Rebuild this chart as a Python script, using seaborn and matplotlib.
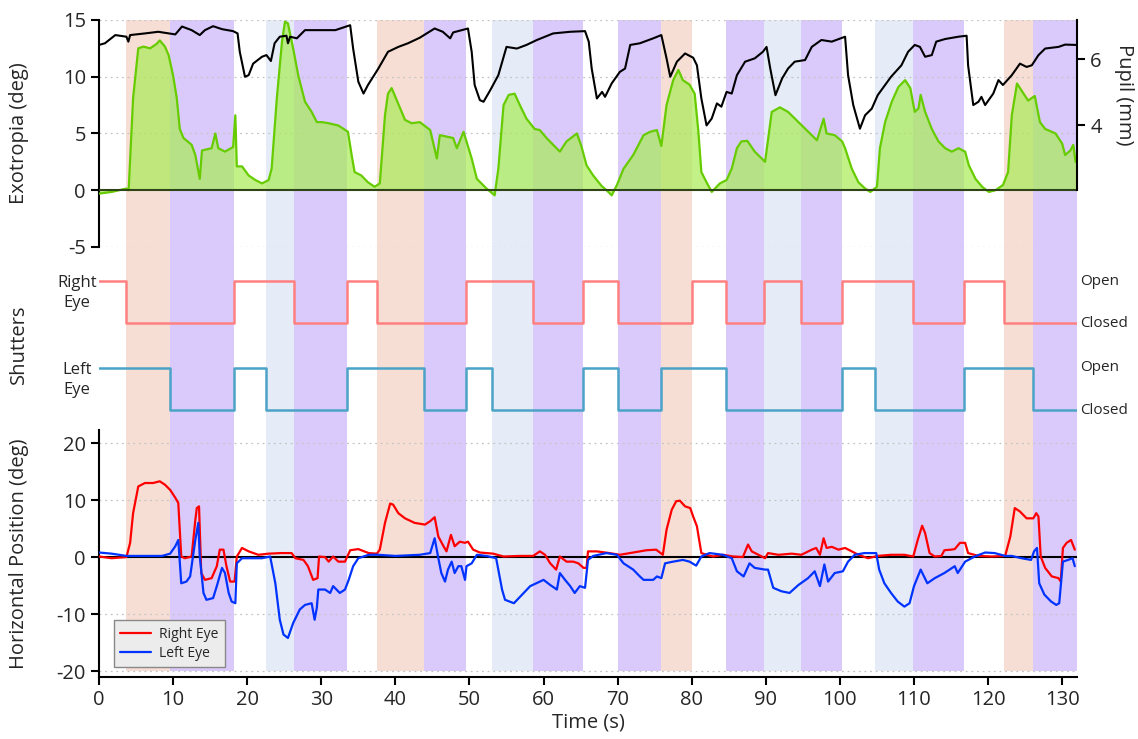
import numpy as np
import pandas as pd
import seaborn as sns
import matplotlib
matplotlib.use("Agg")
import matplotlib.pyplot as plt

# ---- data ----
# shutter switch times (s) and state after the switch (1 = open, 0 = closed)
right_times = [0, 3.6, 18.2, 26.3, 33.5, 37.5, 49.5, 58.6, 65.3, 70.1, 80.1, 84.6, 89.7, 94.7, 100.3, 109.8, 116.8, 122.2]
right_state = [1, 0, 1, 0, 1, 0, 1, 0, 1, 0, 1, 0, 1, 0, 1, 0, 1, 0]
left_times = [0, 9.6, 18.2, 22.6, 33.5, 43.9, 49.5, 53.1, 65.3, 70.1, 75.9, 84.6, 100.3, 104.7, 116.8, 126.0]
left_state = [1, 0, 1, 0, 1, 0, 1, 0, 1, 0, 1, 0, 1, 0, 1, 0]
t_end = 132

# exotropia (deg)
exo_t = [0, 1.7, 3.7, 4.0, 4.6, 5.3, 6.0, 6.9, 7.8, 8.2, 8.9, 9.4, 10.0, 10.5, 10.9, 11.4, 12.5, 13.0, 13.6, 13.9,
         15.2, 15.7, 16.1, 17.0, 18.1, 18.4, 18.6, 19.3, 20.2, 21.1, 22.0, 22.9, 23.3, 24.0, 24.7, 25.1, 25.5, 26.2,
         26.9, 27.8, 28.7, 29.4, 30.1, 31.0, 32.3, 33.6, 34.1, 34.5, 35.4, 36.3, 37.2, 37.9, 38.6, 39.0, 39.5, 40.4,
         41.3, 42.2, 43.3, 44.7, 45.6, 46.0, 47.8, 48.3, 49.2, 49.6, 50.3, 51.0, 52.3, 53.4, 53.9, 54.6, 55.3, 56.1,
         56.8, 57.7, 58.8, 59.5, 60.4, 61.3, 62.2, 63.1, 64.5, 65.1, 65.8, 66.7, 67.8, 68.5, 69.2, 69.9, 70.8, 72.1,
         73.5, 74.4, 75.3, 75.9, 76.6, 77.5, 78.2, 78.8, 79.7, 80.4, 80.9, 81.3, 82.0, 82.7, 83.8, 84.7, 85.4, 86.1,
         86.7, 87.5, 88.5, 89.9, 90.8, 91.9, 93.0, 94.4, 96.2, 96.9, 97.8, 98.2, 99.3, 100.3, 100.7, 101.6, 102.5,
         103.4, 104.1, 105.0, 105.4, 106.1, 107.0, 107.9, 108.8, 109.5, 110.1, 110.6, 110.9, 111.5, 112.4, 113.3,
         114.2, 115.1, 116.0, 116.9, 117.4, 118.3, 119.2, 120.1, 121.0, 122.0, 122.7, 123.2, 123.9, 124.5, 125.4,
         126.3, 127.0, 127.7, 129.1, 130.0, 130.4, 131.1, 131.5, 131.8]
exo_deg = [-0.3, -0.15, 0.15, 0.0, 8.1, 12.5, 12.65, 12.5, 12.9, 13.2, 12.65, 11.9, 10.1, 8.1, 5.4, 4.6, 4.0, 3.1, 1.0, 3.5,
           3.7, 5.0, 3.7, 3.4, 3.8, 6.6, 2.1, 2.1, 1.3, 0.9, 0.6, 0.9, 1.9, 8.1, 13.1, 14.85, 14.7, 12.5,
           10.1, 7.8, 6.9, 6.0, 6.0, 5.9, 5.7, 5.15, 3.1, 1.6, 1.3, 0.7, 0.3, 0.6, 6.6, 8.5, 9.0, 7.6,
           6.2, 5.9, 6.0, 5.3, 2.8, 4.85, 4.6, 3.7, 5.15, 4.3, 2.8, 1.0, 0.15, -0.45, 1.9, 7.5, 8.4, 8.5,
           7.5, 6.3, 5.4, 5.3, 4.6, 4.0, 3.4, 4.3, 5.0, 3.9, 2.2, 1.3, 0.4, 0.0, -0.45, 0.45, 1.9, 3.1,
           4.85, 5.15, 5.3, 3.9, 7.5, 9.7, 10.6, 9.7, 9.3, 8.5, 5.15, 1.6, 0.7, -0.15, 0.6, 0.9, 1.9, 3.7,
           4.3, 4.35, 3.4, 2.5, 6.9, 7.3, 6.9, 6.0, 4.85, 4.4, 6.3, 5.0, 4.85, 4.3, 3.7, 1.9, 0.7,
           0.15, -0.15, 0.3, 3.7, 6.0, 7.8, 9.1, 9.7, 9.0, 6.9, 7.2, 8.4, 6.9, 5.4, 4.3,
           3.7, 3.4, 3.7, 3.4, 2.2, 1.0, 0.3, -0.15, 0.0, 0.45, 1.6, 6.6, 9.4, 8.8, 7.9,
           8.3, 6.0, 5.4, 5.0, 4.1, 3.1, 3.5, 4.0, 2.5]

# pupil diameter (mm)
pupil_t = [0, 0.8, 2.2, 3.7, 3.96, 4.2, 6.2, 8.0, 10.3, 11.2, 12.5, 13.6, 14.3, 15.4, 16.6, 18.1, 18.7, 19.0, 19.7,
           20.2, 20.8, 22.0, 22.6, 23.2, 23.7, 24.4, 25.3, 25.5, 25.8, 26.7, 27.8, 30.1, 31.9, 33.9, 34.3, 35.0,
           35.7, 36.3, 37.7, 39.0, 40.4, 41.7, 43.3, 45.3, 46.4, 47.4, 47.8, 49.8, 50.3, 50.7, 51.4, 51.9, 52.8,
           53.9, 55.0, 56.4, 57.7, 59.1, 61.3, 63.6, 65.6, 66.1, 66.5, 67.2, 67.9, 68.3, 69.2, 70.3, 71.0, 71.7,
           73.0, 74.8, 75.9, 76.6, 77.1, 78.0, 79.1, 80.2, 80.7, 81.3, 82.0, 82.7, 83.4, 84.0, 84.7, 85.4, 86.1,
           87.2, 88.5, 89.6, 90.1, 90.6, 91.3, 92.2, 93.0, 93.9, 95.3, 96.2, 97.5, 98.9, 100.7, 101.1, 101.8,
           102.7, 103.4, 104.3, 105.1, 106.9, 108.3, 109.2, 110.1, 110.8, 111.5, 112.4, 113.0, 114.2, 116.0,
           117.1, 117.3, 118.0, 118.7, 119.1, 119.6, 120.7, 121.4, 122.0, 123.2, 124.3, 125.2, 125.9, 126.8,
           127.7, 129.5, 130.4, 131.8]
pupil_mm = [6.44, 6.49, 6.74, 6.69, 6.54, 6.74, 6.79, 6.84, 6.76, 7.0, 6.89, 6.74, 6.89, 7.01, 6.92, 6.86, 6.79, 6.23, 5.47,
            5.52, 5.87, 6.08, 6.13, 5.95, 6.49, 6.69, 6.72, 6.49, 6.69, 6.64, 6.89, 6.89, 6.89, 7.04, 6.33, 5.32,
            4.96, 5.22, 5.72, 6.23, 6.38, 6.49, 6.66, 6.94, 6.84, 6.64, 6.82, 6.94, 6.23, 5.22, 4.76, 4.71, 5.06,
            5.52, 6.38, 6.33, 6.44, 6.59, 6.79, 6.84, 6.86, 6.54, 5.72, 4.81, 5.01, 4.86, 5.27, 5.62, 5.72, 6.44,
            6.49, 6.64, 6.74, 6.03, 5.47, 5.93, 6.18, 6.05, 5.82, 4.81, 3.99, 4.20, 4.66, 4.56, 5.01, 4.96, 5.52,
            5.93, 6.03, 6.23, 6.38, 5.72, 4.91, 5.42, 5.72, 5.93, 5.98, 6.38, 6.59, 6.54, 6.69, 5.52, 4.61,
            3.89, 4.30, 4.50, 4.91, 5.47, 5.82, 6.23, 6.44, 6.38, 6.08, 6.13, 6.54, 6.62, 6.69,
            6.72, 5.82, 4.61, 4.71, 4.86, 4.61, 4.96, 5.37, 5.22, 5.52, 5.87, 5.77, 5.82, 6.13,
            6.33, 6.38, 6.45, 6.44]

# horizontal eye position (deg)
right_eye_t = [0, 1.7, 3.7, 4.2, 4.6, 5.3, 6.2, 7.3, 8.2, 8.9, 9.6, 10.3, 10.7, 11.1, 11.6, 12.5, 13.0, 13.2, 13.5, 13.8,
               14.3, 15.2, 15.9, 16.3, 16.8, 17.2, 17.7, 18.3, 18.6, 19.3, 20.2, 21.5, 22.9, 24.6, 26.0, 26.5, 27.6,
               28.2, 28.9, 29.5, 29.7, 30.5, 31.0, 31.6, 32.3, 33.2, 33.9, 35.0, 36.4, 37.5, 37.9, 38.6, 39.3, 39.7,
               40.4, 41.3, 42.6, 44.0, 44.7, 45.3, 45.8, 46.5, 46.9, 47.5, 48.0, 48.7, 49.4, 49.8, 50.5, 51.4, 53.2,
               54.6, 56.8, 58.6, 59.5, 60.2, 60.9, 61.7, 62.2, 63.1, 64.0, 64.7, 65.4, 65.8, 66.0, 67.2, 68.9, 70.3,
               72.1, 73.9, 75.2, 76.1, 76.6, 77.3, 77.9, 78.4, 79.1, 79.8, 80.2, 80.7, 81.3, 82.0, 82.9, 84.2, 85.6,
               86.9, 87.6, 88.1, 89.0, 89.9, 90.3, 91.7, 93.5, 94.8, 96.2, 96.8, 97.3, 97.8, 98.2, 98.9, 99.8, 100.7,
               101.6, 102.5, 103.8, 105.1, 106.9, 108.7, 109.9, 110.5, 111.1, 111.5, 112.1, 112.8, 113.7, 114.1,
               115.0, 115.5, 116.2, 116.9, 117.3, 118.7, 120.5, 122.3, 123.0, 123.6, 124.3, 125.2, 126.1, 126.5,
               126.8, 127.1, 127.7, 128.6, 129.5, 129.8, 130.1, 130.6, 131.2, 131.7]
right_eye_deg = [0.1, -0.2, 0.0, 2.5, 7.7, 12.4, 13.0, 13.0, 13.3, 12.7, 11.8, 10.4, 9.5, 0.1, -0.2, 0.1, 6.5, 8.6, 8.9, -2.8,
                 -4.0, -3.7, -1.6, 1.3, 1.3, -1.6, -4.3, -4.3, 0.1, 1.6, 1.0, 0.4, 0.6, 0.7, 0.7, -0.2, -0.5,
                 -1.6, -4.0, -3.7, 0.1, 0.0, -0.8, 0.1, -0.8, -0.8, 1.2, 1.4, 0.7, 0.6, 1.3, 6.0, 9.4, 9.2,
                 7.7, 6.8, 6.0, 5.7, 6.3, 7.0, 3.6, 1.9, 1.0, 3.9, 1.9, 2.7, 2.5, 2.7, 1.3, 0.8, 0.6,
                 0.1, 0.2, 0.2, 1.0, 0.4, -1.1, -2.2, 0.1, -0.8, -0.8, -1.1, -1.9, -1.9, 1.0, 1.0, 0.7, 0.4,
                 0.8, 1.2, 1.3, 0.4, 4.8, 8.3, 9.8, 9.9, 8.9, 8.6, 7.1, 5.4, 0.7, 0.4, 0.1, 0.4, 0.1,
                 0.0, 2.2, 1.0, 0.4, -0.2, 0.7, 0.4, 0.6, 0.4, 1.3, 1.6, 0.4, 3.3, 1.6, 1.8, 1.3, 1.6,
                 1.0, 0.4, -0.2, 0.2, 0.4, 0.4, 0.1, 3.0, 5.5, 4.2, 0.7, 0.1, 0.2, 1.2,
                 1.3, 1.4, 2.5, 2.5, 0.7, 0.2, 0.1, 0.2, 3.6, 8.6, 8.0, 6.8, 6.8, 7.7,
                 7.1, 0.1, -1.9, -3.4, -3.7, -4.3, 1.6, 2.5, 3.0, 1.3]
left_eye_t = [0, 1.7, 3.7, 6.2, 8.5, 9.6, 10.3, 10.7, 11.1, 11.8, 12.3, 13.0, 13.4, 13.6, 14.1, 14.5, 15.4, 15.9, 16.6,
              17.0, 17.5, 17.9, 18.4, 18.6, 19.3, 22.0, 23.1, 23.8, 24.4, 24.9, 25.5, 26.2, 27.1, 27.8, 28.7, 29.1,
              29.4, 29.6, 30.5, 31.2, 31.6, 32.5, 33.2, 33.7, 34.3, 35.0, 36.4, 37.7, 40.0, 43.3, 44.7, 45.3, 45.8,
              46.2, 46.7, 47.1, 47.6, 48.0, 48.5, 48.9, 49.4, 49.6, 50.3, 51.0, 52.3, 53.6, 54.4, 54.8, 56.0, 57.1,
              58.2, 60.0, 60.9, 61.8, 62.2, 62.9, 63.6, 64.2, 64.9, 65.6, 66.0, 66.7, 68.5, 69.9, 70.8, 72.1, 73.0,
              73.5, 74.8, 75.3, 75.9, 76.4, 77.5, 78.8, 79.7, 80.6, 81.3, 82.4, 84.2, 85.4, 86.1, 87.0, 87.8, 88.5,
              89.9, 90.3, 91.0, 92.1, 93.2, 94.4, 95.7, 96.6, 97.3, 97.9, 98.4, 99.3, 100.4, 101.1, 102.0, 103.3,
              104.9, 105.3, 106.0, 106.9, 107.8, 108.7, 109.4, 110.0, 110.9, 111.8, 112.8, 114.1, 115.5, 115.9,
              116.9, 118.2, 119.6, 120.9, 122.3, 123.2, 124.5, 125.8, 126.2, 126.6, 126.9, 127.6, 128.5, 129.2,
              129.6, 130.1, 130.8, 131.4, 131.7]
left_eye_deg = [0.8, 0.6, 0.2, 0.2, 0.2, 0.6, 1.9, 3.0, -4.6, -4.3, -3.4, 3.0, 6.0, 0.1, -6.3, -7.5, -7.2, -5.1, -1.9,
                -2.8, -6.3, -7.8, -8.1, -1.1, -0.2, -0.2, 0.1, -4.6, -11.0, -13.6, -14.2, -11.6, -9.2, -8.4, -8.1, -11.0,
                -8.9, -5.7, -5.7, -6.3, -5.1, -6.3, -5.7, -4.0, -1.6, -0.2, 0.4, 0.4, 0.2, 0.4, 0.7, 3.3, -0.2,
                -2.8, -4.3, -2.2, -0.8, -2.8, -1.6, -1.6, -4.0, -1.6, -1.1, 0.4, 0.2, -0.2, -5.7, -7.5, -8.1, -6.6,
                -5.1, -4.0, -4.9, -5.7, -2.8, -4.0, -5.1, -6.3, -5.1, -5.4, -0.5, 0.2, 0.7, 0.4, -1.1, -2.2, -3.4,
                -4.0, -4.0, -3.4, -3.7, -1.1, -0.8, -0.5, -0.8, -1.5, 0.1, 0.7, 0.4, -0.2, -2.5, -3.4, -1.1, -1.9,
                -2.2, -2.2, -5.4, -6.0, -6.3, -4.9, -3.7, -2.5, -5.1, -1.3, -4.3, -2.8, -2.5, -0.8, 0.4, 0.7,
                0.7, -2.2, -4.6, -6.3, -7.8, -8.7, -8.1, -5.1, -2.2, -4.6, -3.7, -2.8, -1.6, -2.8,
                -0.8, 0.1, 0.8, 0.7, 0.2, 0.2, -0.2, -0.5, 1.0, 1.6, -4.6, -6.6, -7.8, -8.4,
                -8.1, -0.8, -0.5, -0.2, -1.6]

# ---- style ----
sns.set_style("white")
plt.rcParams["font.family"] = ["Open Sans", "DejaVu Sans"]
plt.rcParams["axes.unicode_minus"] = False

band_colors = {(0, 1): "#f7ded4", (0, 0): "#dacafc", (1, 0): "#e5ecf7"}
grid_kw = dict(color="#c4c4c4", lw=0.9, ls=(0, (1.5, 3)), zorder=1.5)


def state_at(times, states, t):
    idx = np.searchsorted(times, t, side="right") - 1
    return states[idx]


# background bands from the shutter states
edges = sorted(set(right_times + left_times + [t_end]))
bands = []
for a, b in zip(edges[:-1], edges[1:]):
    key = (state_at(right_times, right_state, (a + b) / 2), state_at(left_times, left_state, (a + b) / 2))
    if key in band_colors:
        bands.append((a, b, band_colors[key]))

fig = plt.figure(figsize=(11.38, 7.39), dpi=100)
L, W = 0.087, 0.8594
ax_top = fig.add_axes([L, 0.6658, W, 0.3072])
ax_mid = fig.add_axes([L, 0.4181, W, 0.2477])
ax_bot = fig.add_axes([L, 0.0839, W, 0.3342])

for ax in (ax_top, ax_mid, ax_bot):
    ax.set_xlim(0, t_end)
    ax.patch.set_alpha(0)

# ---- top panel: exotropia + pupil ----
ax_top.set_ylim(-5, 15)
for a, b, c in bands:
    ax_top.axvspan(a, b, color=c, lw=0, zorder=0)
for v in [-5, 5, 10, 15]:
    ax_top.axhline(v, **grid_kw)
ax_top.fill_between(exo_t, 0, exo_deg, color="#a8ec55", alpha=0.7, lw=0, zorder=2)
sns.lineplot(x=exo_t, y=exo_deg, ax=ax_top, color="#66cc00", lw=1.6, zorder=3)
ax_top.axhline(0, color="#2f4417", lw=1.5, zorder=4)
ax_top.set_yticks([-5, 0, 5, 10, 15])
ax_top.set_xticks([])
ax_top.set_ylabel("Exotropia (deg)", fontsize=14.5)
ax_top.yaxis.set_label_coords(-0.072, 0.5)
for s in ["top", "right", "bottom"]:
    ax_top.spines[s].set_visible(False)

ax_p = ax_top.twinx()
ax_p.set_ylim(0.29, 7.2)
sns.lineplot(x=pupil_t, y=pupil_mm, ax=ax_p, color="black", lw=1.5)
ax_p.set_yticks([4, 6])
ax_p.spines["right"].set_bounds(2.02, 7.2)
for s in ["top", "left", "bottom"]:
    ax_p.spines[s].set_visible(False)
ax_p.set_ylabel("")
fig.text(1124 / 1138, 1 - 95 / 739, "Pupil (mm)", rotation=270, ha="center", va="center", fontsize=14.5)

# ---- middle panel: shutters ----
r_base, l_base = 2.07, 0.0
ax_mid.set_ylim(-0.476, 3.88)
for a, b, c in bands:
    ax_mid.axvspan(a, b, color=c, lw=0, zorder=0)
sns.lineplot(x=right_times + [t_end], y=[r_base + s for s in right_state + right_state[-1:]], ax=ax_mid,
             color="#ff8080", lw=1.8, drawstyle="steps-post")
sns.lineplot(x=left_times + [t_end], y=[l_base + s for s in left_state + left_state[-1:]], ax=ax_mid,
             color="#4ba3c7", lw=1.8, drawstyle="steps-post")
ax_mid.text(-3.0, r_base + 0.72, "Right\nEye", ha="center", va="center", fontsize=12, clip_on=False, linespacing=1.3)
ax_mid.text(-3.0, l_base + 0.71, "Left\nEye", ha="center", va="center", fontsize=12, clip_on=False, linespacing=1.3)
for base in (r_base, l_base):
    ax_mid.text(132.4, base + 1, "Open", ha="left", va="center", fontsize=11, clip_on=False)
    ax_mid.text(132.4, base, "Closed", ha="left", va="center", fontsize=11, clip_on=False)
ax_mid.set_xticks([])
ax_mid.set_yticks([])
ax_mid.set_ylabel("Shutters", fontsize=14.5)
ax_mid.yaxis.set_label_coords(-0.072, 0.47)
for s in ax_mid.spines.values():
    s.set_visible(False)

# ---- bottom panel: horizontal eye position ----
ax_bot.set_ylim(-21.05, 22.3)
for a, b, c in bands:
    ax_bot.fill_between([a, b], -20, 22.3, color=c, lw=0, zorder=0)
for v in [-20, -10, 10, 20]:
    ax_bot.axhline(v, **grid_kw)
ax_bot.axhline(0, color="black", lw=1.5, zorder=2)
sns.lineplot(x=right_eye_t, y=right_eye_deg, ax=ax_bot, color="#ff0000", lw=1.6, label="Right Eye", zorder=3)
sns.lineplot(x=left_eye_t, y=left_eye_deg, ax=ax_bot, color="#0033ff", lw=1.6, label="Left Eye", zorder=3)
ax_bot.set_yticks([-20, -10, 0, 10, 20])
ax_bot.set_xticks(np.arange(0, 131, 10))
ax_bot.set_xlabel("Time (s)", fontsize=14.5, labelpad=2)
ax_bot.set_ylabel("Horizontal Position (deg)", fontsize=14.5)
ax_bot.yaxis.set_label_coords(-0.072, 0.5)
for s in ["top", "right"]:
    ax_bot.spines[s].set_visible(False)
leg = ax_bot.legend(loc="lower left", bbox_to_anchor=(0.008, 0.012), fontsize=10, fancybox=False,
                    frameon=True, handlelength=2.2, handletextpad=0.6, borderpad=0.45, labelspacing=0.3)
leg.get_frame().set_facecolor("#ececec")
leg.get_frame().set_edgecolor("#888888")
leg.get_frame().set_alpha(1)

for ax in (ax_top, ax_p, ax_bot):
    for s in ax.spines.values():
        s.set_linewidth(1.5)
        s.set_color("black")
    ax.tick_params(axis="both", direction="out", length=6, width=1.5, labelsize=14.5, color="black",
                   left=ax is not ax_p, right=ax is ax_p, bottom=ax is ax_bot)

fig.savefig("out.png", dpi=100)
